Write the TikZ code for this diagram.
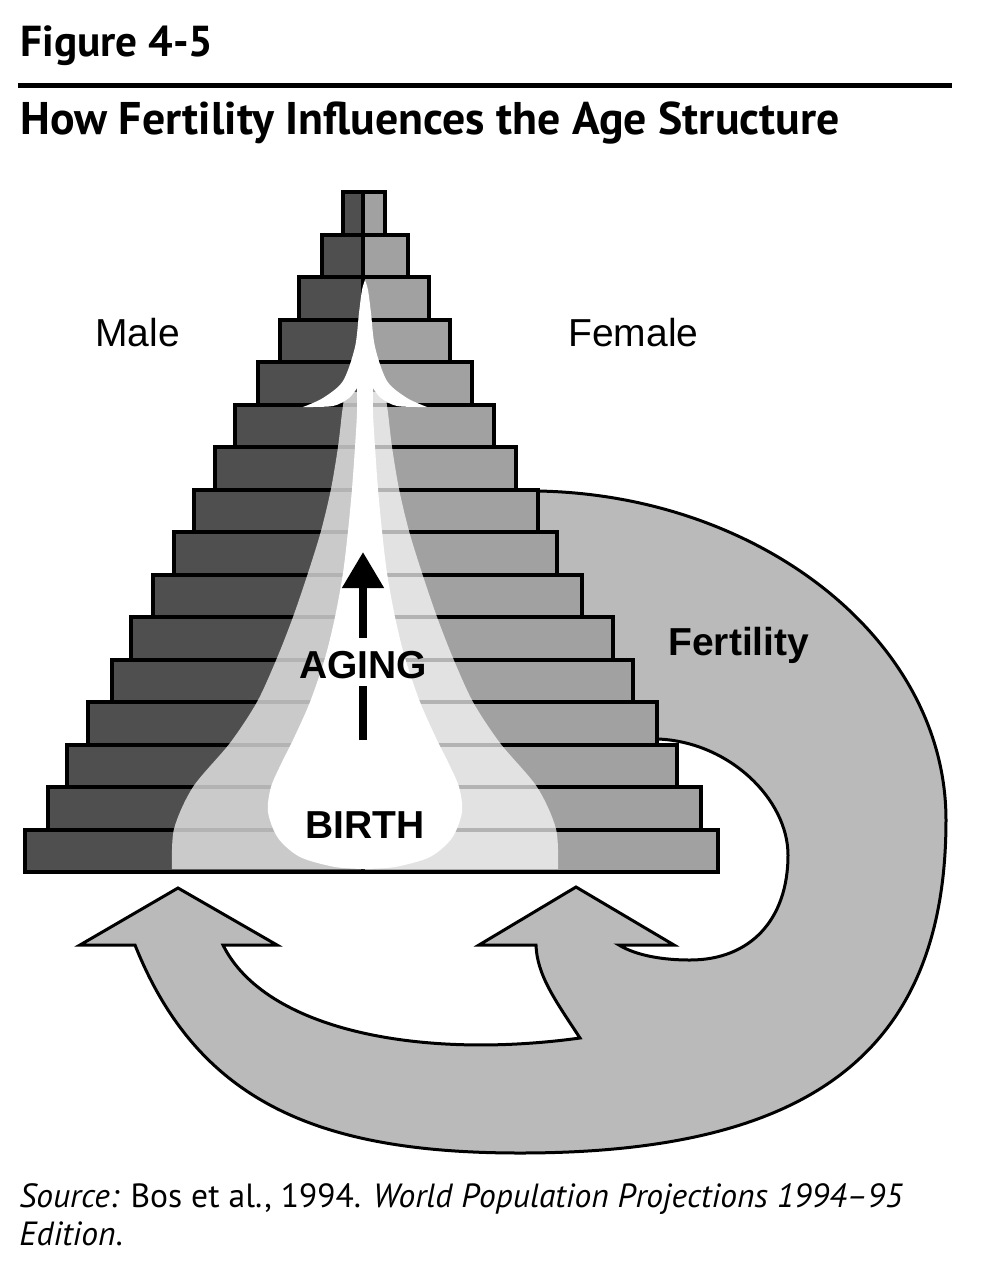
\documentclass[tikz,border=0pt]{standalone}
\usepackage{fontspec}
\setmainfont{Liberation Sans}
\newfontfamily\myr{PT Sans}
\usetikzlibrary{arrows.meta}
\definecolor{maleC}{gray}{0.31}
\definecolor{femC}{gray}{0.63}
\definecolor{fertC}{gray}{0.73}
\begin{document}
\begin{tikzpicture}[x=0.5pt,y=-0.5pt,
  barline/.style={draw=black,line width=2pt},
  fertshape/.style={fill=fertC,draw=black,line width=1.5pt,line join=miter},
  lbl/.style={inner sep=0pt,font=\fontsize{19.5pt}{22pt}\selectfont},
  blbl/.style={inner sep=0pt,font=\fontsize{19.5pt}{22pt}\selectfont\bfseries},
  agingline/.style={line width=4pt,draw=black}]
\useasboundingbox (0,0) rectangle (1000,1270);

% ---------- Fertility arrow (behind pyramid) ----------
\path[fertshape] (520,491) -- (538,491)
  .. controls (760,495) and (946,640) .. (946,820)
  .. controls (946,1060) and (800,1153) .. (520,1153)
  .. controls (320,1153) and (198,1103) .. (135,945)
  -- (80,945) -- (178,888) -- (277,945) -- (223,945)
  .. controls (265,1030) and (420,1060) .. (580,1038)
  .. controls (555,1000) and (537,975) .. (536,945)
  -- (479,945) -- (576,887) -- (674,945) -- (619,945)
  .. controls (632,953) and (655,960) .. (690,960)
  .. controls (750,960) and (788,920) .. (788,855)
  .. controls (788,800) and (730,742) .. (658,739)
  -- (600,700) -- (530,600) -- (520,491) -- cycle;

% ---------- Pyramid ----------
\foreach \l/\r [count=\i from 0] in {343/385,322/408,299/429,280/450,258/472,235/494,215/516,194/538,174/557,153/582,131/613,112/633,88/657,67/677,48/701,25/718}{
  \pgfmathsetmacro\yt{192+42.5*\i}
  \pgfmathsetmacro\yb{\yt+42.5}
  \fill[maleC] (\l,\yt) rectangle (363,\yb);
  \fill[femC] (363,\yt) rectangle (\r,\yb);
}
\foreach \l/\r [count=\i from 0] in {343/385,322/408,299/429,280/450,258/472,235/494,215/516,194/538,174/557,153/582,131/613,112/633,88/657,67/677,48/701,25/718}{
  \pgfmathsetmacro\yt{192+42.5*\i}
  \pgfmathsetmacro\yb{\yt+42.5}
  \draw[barline] (\l,\yt) rectangle (363,\yb);
  \draw[barline] (363,\yt) rectangle (\r,\yb);
}

% ---------- light cohort band ----------
\fill[white,opacity=0.7]
  plot[smooth] coordinates {(172,869) (174,829) (193,787) (230,743) (257,702) (277,658) (293,617) (308,573) (321,531) (331,489) (338,447) (342,413) (345,392)}
  -- plot[smooth] coordinates {(385,392) (388,413) (392,447) (399,489) (409,531) (422,573) (437,617) (453,658) (473,702) (500,743) (537,787) (556,829) (558,869)}
  -- cycle;

% ---------- white birth drop and aging flame ----------
\fill[white]
  plot[smooth] coordinates {(364,869) (335,867) (300,857) (278,838) (268,812) (271,787) (282,762) (293,740) (310,702) (325,658) (335,617) (343,573) (348,531) (352,489) (355,447) (357,413) (357,388)}
  -- plot[smooth] coordinates {(357,388) (349,398) (333,406) (303,407)}
  -- plot[smooth] coordinates {(303,407) (323,398) (343,381) (355,347) (359,313) (362,290) (365,280)}
  -- plot[smooth] coordinates {(365,280) (368,290) (371,313) (375,347) (387,381) (407,398) (427,407)}
  -- plot[smooth] coordinates {(427,407) (397,406) (381,398) (373,388)}
  -- plot[smooth] coordinates {(373,388) (373,413) (375,447) (378,489) (382,531) (387,573) (395,617) (405,658) (420,702) (437,740) (448,762) (459,787) (462,812) (452,838) (430,857) (395,867) (364,869)}
  -- cycle;

% ---------- aging arrow ----------
\coordinate (ag1) at (363,740);
\coordinate (ag2) at (363,686);
\coordinate (ag3) at (363,638);
\coordinate (ag4) at (363,552);
\draw[agingline] (ag1) -- (ag2);
\draw[agingline,-{Triangle[length=18pt,width=20pt]}] (ag3) -- (ag4);

% ---------- labels ----------
\node[lbl,anchor=base west] (male) at (95,346) {Male};
\node[lbl,anchor=base west] (female) at (568,346) {Female};
\node[blbl,anchor=base west] (fert) at (668,655) {Fertility};
\node[blbl,anchor=base] (aging) at (363,678) {AGING};
\node[blbl,anchor=base] (birth) at (365,838) {BIRTH};

% ---------- heading ----------
\node[anchor=base west,inner sep=0pt] (fig) at (20,56) {\resizebox{96.5pt}{!}{\myr\bfseries Figure 4-5}};
\coordinate (ruleL) at (18,85.5);
\coordinate (ruleR) at (952,85.5);
\draw[line width=2.5pt] (ruleL) -- (ruleR);
\node[anchor=base west,inner sep=0pt] (title) at (20,134) {\resizebox{409.5pt}{!}{\myr\bfseries How Fertility Influences the Age Structure}};

% ---------- source ----------
\node[anchor=base west,inner sep=0pt] (src) at (19,1207) {\resizebox{441.5pt}{!}{\vtop{\myr\fontsize{15.7pt}{18pt}\selectfont\hbox{\itshape Source:\upshape{} Bos et al., 1994. \itshape World Population Projections 1994–95}\hbox{\itshape Edition\upshape.}}}};
\end{tikzpicture}
\end{document}
